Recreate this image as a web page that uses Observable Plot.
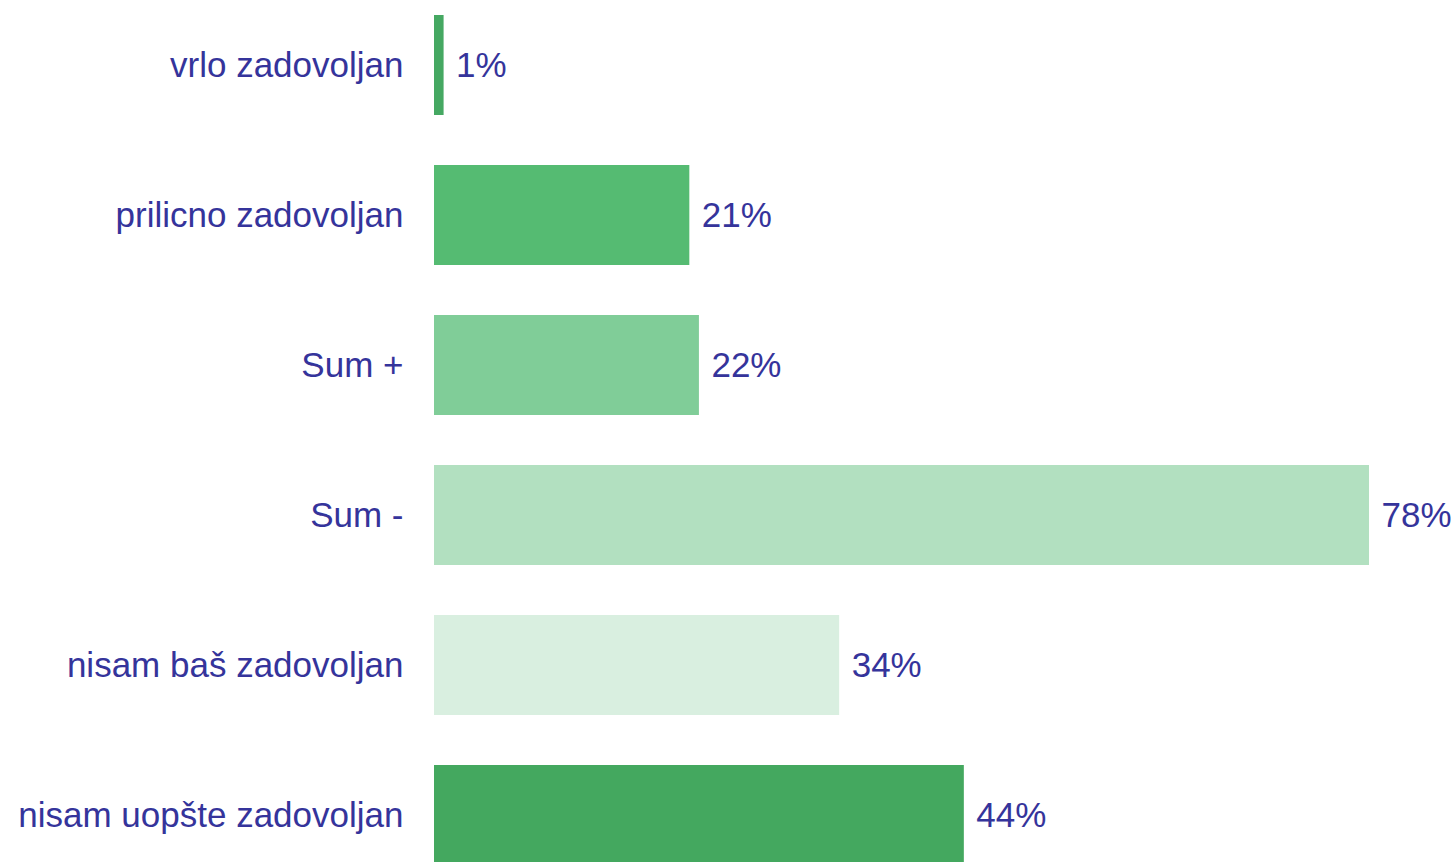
<!DOCTYPE html>
<html>
<head>
<meta charset="utf-8">
<script src="https://cdn.jsdelivr.net/npm/d3@7"></script>
<script src="https://cdn.jsdelivr.net/npm/@observablehq/plot@0.6"></script>
<style>
  html, body { margin: 0; padding: 0; background: #fff; overflow: hidden; }
</style>
</head>
<body>
<div id="chart"></div>
<script>
const categories = ["vrlo zadovoljan", "prilicno zadovoljan", "Sum +", "Sum -", "nisam baš zadovoljan", "nisam uopšte zadovoljan"];
const values = [0.8, 21.3, 22.1, 78, 33.8, 44.2];
const labels = ["1%", "21%", "22%", "78%", "34%", "44%"];
const colors = ["#45a862", "#55bb72", "#80cd98", "#b2e0c0", "#d9efe0", "#44a85f"];

const data = categories.map((c, i) => ({category: c, value: values[i], label: labels[i], color: colors[i]}));

const textColor = "#35349b";

const chart = Plot.plot({
  width: 1454,
  height: 862,
  marginLeft: 434,
  marginRight: 0,
  marginTop: 13,
  marginBottom: -4,
  style: {fontFamily: "'Liberation Sans', Arial, sans-serif", background: "#fff", overflow: "hidden"},
  x: {domain: [0, 78], range: [434, 1369], axis: null},
  y: {domain: categories, paddingInner: 0.335, paddingOuter: 0, label: null},
  marks: [
    Plot.barX(data, {y: "category", x: "value", fill: d => d.color}),
    Plot.text(data, {y: "category", x: "value", text: "label", textAnchor: "start", dx: 12, fontSize: 35, fill: textColor}),
    Plot.axisY({tickSize: 0, tickPadding: 31, fontSize: 35, color: textColor, label: null})
  ]
});
chart.querySelectorAll("text").forEach(t => t.setAttribute("fill", textColor));
document.getElementById("chart").appendChild(chart);
</script>
</body>
</html>
